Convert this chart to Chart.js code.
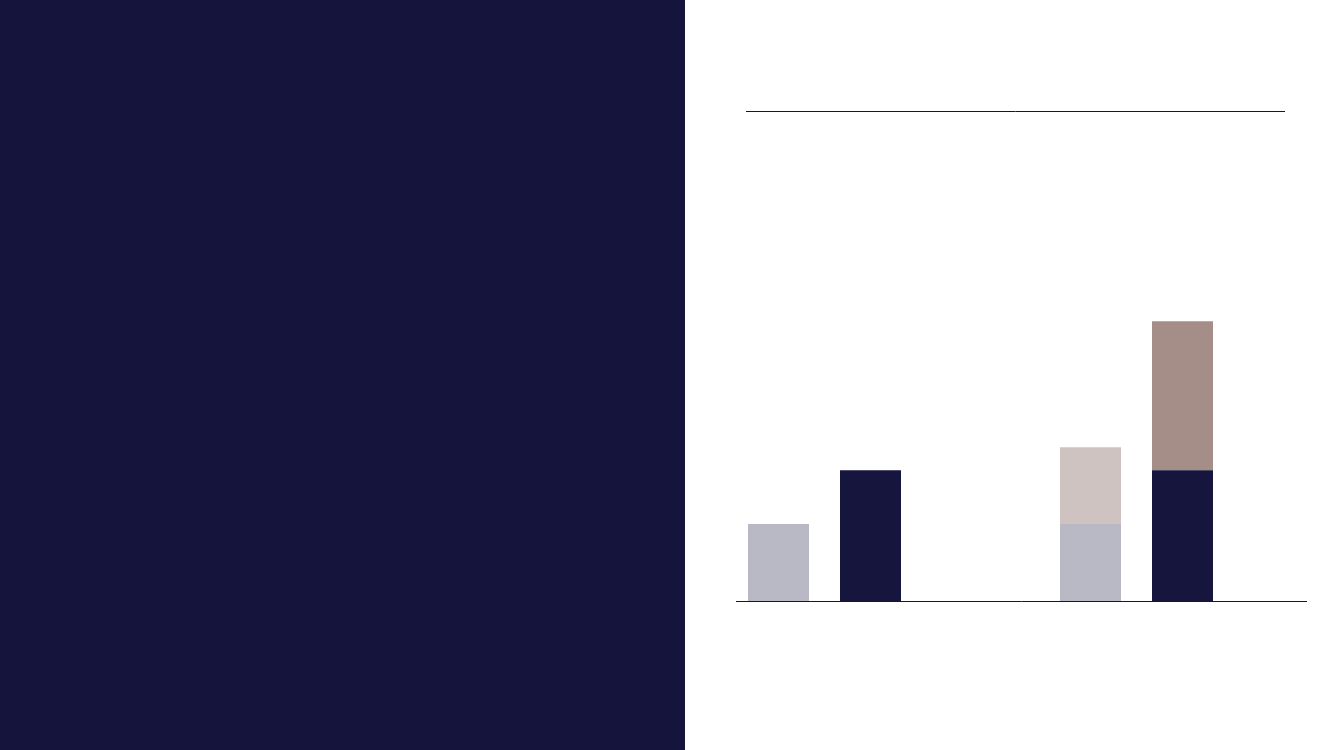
<!DOCTYPE html>
<html>
<head>
<meta charset="utf-8">
<title>Bar chart</title>
<script src="https://cdn.jsdelivr.net/npm/chart.js@4.4.0/dist/chart.umd.min.js"></script>
<style>
    html, body { margin: 0; padding: 0; background: #fff; overflow: hidden; }
    #panel { position: absolute; left: 0; top: 0; width: 685px; height: 750px; background: #14143c; }
    #chart { position: absolute; left: 0; top: 0; }
</style>
</head>
<body>
<div id="panel"></div>
<canvas id="chart" width="1333" height="750"></canvas>
<script>
// two groups, each with two stacks
const groups = ['Group 1', 'Group 2'];
const baseA = [15.7, 15.7];   // light grey
const extraA = [null, 15.7];  // light pink on top
const baseB = [26.7, 26.7];   // navy
const extraB = [null, 30.4];  // brown on top
const yMax = 100;

const NAVY = '#14143c';

// top rule and baseline, the baseline sits on y = 0
const rules = {
    id: 'rules',
    afterDraw(chart) {
        const { ctx, chartArea, scales } = chart;
        const yTop = Math.round(chartArea.top) + 0.5;
        const y0 = Math.round(scales.y.getPixelForValue(0)) + 0.5;
        ctx.save();
        ctx.strokeStyle = NAVY;
        ctx.lineWidth = 1;
        ctx.beginPath();
        ctx.moveTo(746, yTop);
        ctx.lineTo(1285, yTop);
        ctx.moveTo(736, y0);
        ctx.lineTo(1307, y0);
        ctx.stroke();
        ctx.restore();
    }
};

new Chart(document.getElementById('chart').getContext('2d'), {
    type: 'bar',
    data: {
        labels: groups,
        datasets: [
            { label: 'A', data: baseA, stack: 'a', backgroundColor: '#b9b9c5' },
            { label: 'A+', data: extraA, stack: 'a', backgroundColor: '#cfc3c2' },
            { label: 'B', data: baseB, stack: 'b', backgroundColor: '#15153d' },
            { label: 'B+', data: extraB, stack: 'b', backgroundColor: '#a68e88' }
        ]
    },
    options: {
        responsive: false,
        animation: false,
        layout: { padding: { left: 668.5, right: 40.5, top: 111, bottom: 149 } },
        datasets: { bar: { categoryPercentage: 0.5897, barPercentage: 0.663, borderWidth: 0 } },
        scales: {
            x: { stacked: true, display: false },
            y: { stacked: true, display: false, min: 0, max: yMax }
        },
        plugins: {
            legend: { display: false },
            tooltip: { enabled: false }
        }
    },
    plugins: [rules]
});
</script>
</body>
</html>
